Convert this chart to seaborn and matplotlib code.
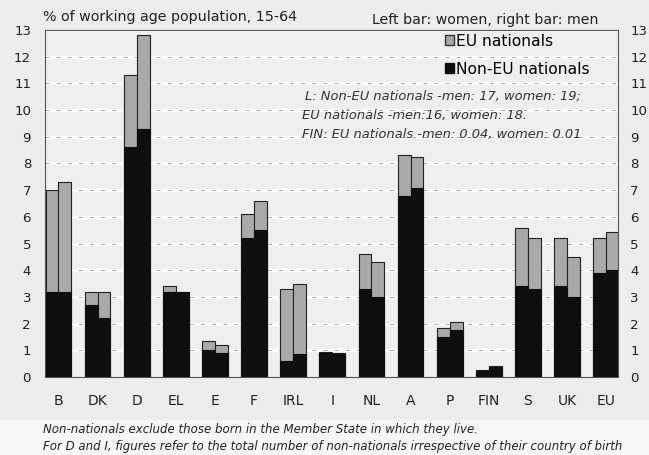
import numpy as np
import pandas as pd
import matplotlib
matplotlib.use("Agg")
import matplotlib.pyplot as plt
import seaborn as sns
from matplotlib.patches import Patch, Rectangle

# ===========================
# Data
# ===========================
countries = ["B", "DK", "D", "EL", "E", "F", "IRL", "I", "NL", "A", "P", "FIN", "S", "UK", "EU"]

# total non-nationals (EU + non-EU), % of working age population
women_total = [7.0, 3.2, 11.3, 3.4, 1.35, 6.1, 3.3, 0.95, 4.6, 8.3, 1.85, 0.25, 5.6, 5.2, 5.2]
men_total = [7.3, 3.2, 12.8, 3.2, 1.2, 6.6, 3.5, 0.9, 4.3, 8.25, 2.05, 0.4, 5.2, 4.5, 5.45]

# non-EU nationals only
women_noneu = [3.2, 2.7, 8.6, 3.2, 1.0, 5.2, 0.6, 0.9, 3.3, 6.8, 1.5, 0.24, 3.4, 3.4, 3.9]
men_noneu = [3.2, 2.2, 9.3, 3.2, 0.9, 5.5, 0.85, 0.88, 3.0, 7.1, 1.75, 0.36, 3.3, 3.0, 4.0]

sexes = ["women", "men"]
yticks = list(range(0, 14))

note_lines = [
    "L: Non-EU nationals -men: 17, women: 19;",
    "EU nationals -men:16, women: 18.",
    "FIN: EU nationals -men: 0.04, women: 0.01",
]
footnotes = [
    "Non-nationals exclude those born in the Member State in which they live.",
    "For D and I, figures refer to the total number of non-nationals irrespective of their country of birth",
]

# ===========================
# Build long table
# ===========================
df = pd.DataFrame({
    "country": countries * 2,
    "sex": ["women"] * len(countries) + ["men"] * len(countries),
    "total": women_total + men_total,
    "noneu": women_noneu + men_noneu,
})

EU_GREY = "#a9a9a9"
BLACK = "#0e0e0e"
BG = "#efefef"

plt.rcParams["font.family"] = ["DejaVu Sans"]

fig = plt.figure(figsize=(6.49, 4.55), dpi=100, facecolor="#ededed")
# lighter strip behind the footnotes
fig.patches.append(Rectangle((0, 0), 1, 0.077, transform=fig.transFigure,
                             facecolor="#f7f7f7", edgecolor="none", zorder=-1))
ax = fig.add_axes([0.0693, 0.1714, 0.8827, 0.7626])
ax.set_facecolor(BG)

# gridlines: white band with a faint dark line
for y in yticks[1:]:
    ax.axhline(y, color="white", lw=2.2, zorder=0)
    ax.axhline(y, color="#8a8a8a", lw=0.5, zorder=0, dashes=(6, 10))

sns.barplot(data=df, x="country", y="total", hue="sex", hue_order=sexes,
            palette={"women": EU_GREY, "men": EU_GREY}, width=0.66,
            edgecolor="#222222", linewidth=0.8, legend=False, ax=ax,
            errorbar=None, zorder=2)
sns.barplot(data=df, x="country", y="noneu", hue="sex", hue_order=sexes,
            palette={"women": BLACK, "men": BLACK}, width=0.66,
            edgecolor=BLACK, linewidth=0.8, legend=False, ax=ax,
            errorbar=None, zorder=3)

ax.set_xlim(-0.345, 14.3)
ax.set_ylim(0, 13)
ax.set_yticks(yticks)
ax.set_xlabel("")
ax.set_ylabel("")
ax.tick_params(axis="x", length=0, labelsize=10, colors="#222222", pad=12)
ax.tick_params(axis="y", length=0, labelsize=9.6, colors="#222222", pad=10)
for s in ax.spines.values():
    s.set_color("#555555")
    s.set_linewidth(0.8)

# right-hand axis duplicate labels
ax2 = ax.twinx()
ax2.set_ylim(0, 13)
ax2.set_yticks(yticks)
ax2.tick_params(axis="y", length=0, labelsize=9.6, colors="#222222", pad=9)
for s in ax2.spines.values():
    s.set_visible(False)

# legend
handles = [Patch(facecolor=EU_GREY, edgecolor="#333333", label="EU nationals"),
           Patch(facecolor=BLACK, edgecolor=BLACK, label="Non-EU nationals")]
ax.legend(handles=handles, loc="upper right", bbox_to_anchor=(0.975, 1.03),
          frameon=False, fontsize=11.2, handlelength=0.6, handleheight=0.6,
          handletextpad=0.1, labelspacing=0.85)

# note inside the plot
for i, line in enumerate(note_lines):
    ax.text(0.454 if i == 0 else 0.448, 0.81 - i * 0.056, line, transform=ax.transAxes,
            fontsize=9.4, style="italic", color="#333333", va="center")

fig.text(0.066, 0.978, "% of working age population, 15-64", fontsize=10.3,
         color="#222222", va="top")
fig.text(0.573, 0.972, "Left bar: women, right bar: men", fontsize=10.2,
         color="#222222", va="top")

for i, line in enumerate(footnotes):
    fig.text(0.066, 0.055 - i * 0.037, line, fontsize=8.45, style="italic",
             color="#222222", va="center")

fig.savefig("out.png", dpi=100, facecolor=fig.get_facecolor())
